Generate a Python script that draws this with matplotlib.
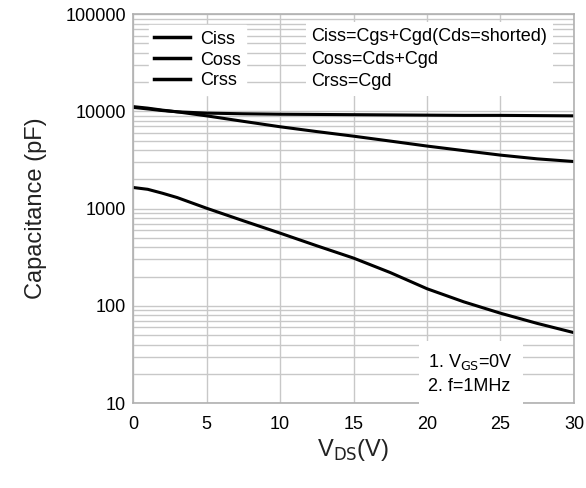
import numpy as np
import matplotlib.pyplot as plt
from matplotlib.lines import Line2D

plt.rcParams['font.family'] = ['Liberation Sans', 'DejaVu Sans']

# drain-source voltage (V)
vds = [0, 1, 2, 3, 5, 7.5, 10, 12.5, 15, 17.5, 20, 22.5, 25, 27.5, 30]
# capacitances (pF)
ciss = [11000, 10600, 10200, 9900, 9600, 9450, 9350, 9300, 9250, 9200, 9150, 9100, 9100, 9050, 9000]
coss = [11200, 10800, 10300, 9900, 9000, 7900, 6950, 6200, 5560, 4950, 4400, 3950, 3550, 3250, 3050]
crss = [1650, 1580, 1440, 1300, 1010, 750, 560, 415, 310, 220, 150, 110, 84, 66, 53]

fig = plt.figure(figsize=(5.86, 4.88), dpi=100)
ax = fig.add_axes([0.227, 0.174, 0.7525, 0.797])

ax.plot(vds, ciss, color='black', lw=2.2, solid_capstyle='butt')
ax.plot(vds, coss, color='black', lw=2.2, solid_capstyle='butt')
ax.plot(vds, crss, color='black', lw=2.2, solid_capstyle='butt')

ax.set_yscale('log')
ax.set_xlim(0, 30)
ax.set_ylim(10, 100000)
ax.set_xticks([0, 5, 10, 15, 20, 25, 30])
ax.set_yticks([10, 100, 1000, 10000, 100000])
ax.set_yticklabels(['10', '100', '1000', '10000', '100000'])
ax.grid(True, which='both', color='#c8c8c8', lw=1.0)
ax.set_axisbelow(True)
ax.tick_params(which='both', length=0, labelsize=13)
ax.tick_params(axis='x', pad=9)
ax.tick_params(axis='y', pad=5)
for s in ax.spines.values():
    s.set_color('#b0b0b0')
    s.set_linewidth(1.2)

ax.set_ylabel('Capacitance (pF)', fontsize=17, labelpad=13, color='#222222')
ax.set_xlabel('V$_{\\mathrm{DS}}$(V)', fontsize=17, labelpad=3, color='#222222')

handles = [Line2D([], [], color='black', lw=2.5) for _ in range(3)]
leg = ax.legend(handles, ['Ciss', 'Coss', 'Crss'], loc='upper left',
                bbox_to_anchor=(0.015, 0.995), frameon=True, fontsize=13,
                handlelength=2.0, handletextpad=0.55, labelspacing=0.22,
                borderpad=0.3)
leg.get_frame().set_edgecolor('white')
leg.get_frame().set_facecolor('white')
leg.get_frame().set_alpha(1)
leg.get_frame().set_boxstyle('square', pad=0)

ax.text(0.405, 0.965, 'Ciss=Cgs+Cgd(Cds=shorted)\nCoss=Cds+Cgd\nCrss=Cgd',
        transform=ax.transAxes, fontsize=13, va='top', ha='left',
        linespacing=1.45,
        bbox=dict(facecolor='white', edgecolor='none', pad=4))

ax.text(0.67, 0.022, '1. V$_{\\mathrm{GS}}$=0V\n2. f=1MHz',
        transform=ax.transAxes, fontsize=13, va='bottom', ha='left',
        linespacing=1.45,
        bbox=dict(facecolor='white', edgecolor='none', pad=7))

fig.savefig('out.png', dpi=100)
